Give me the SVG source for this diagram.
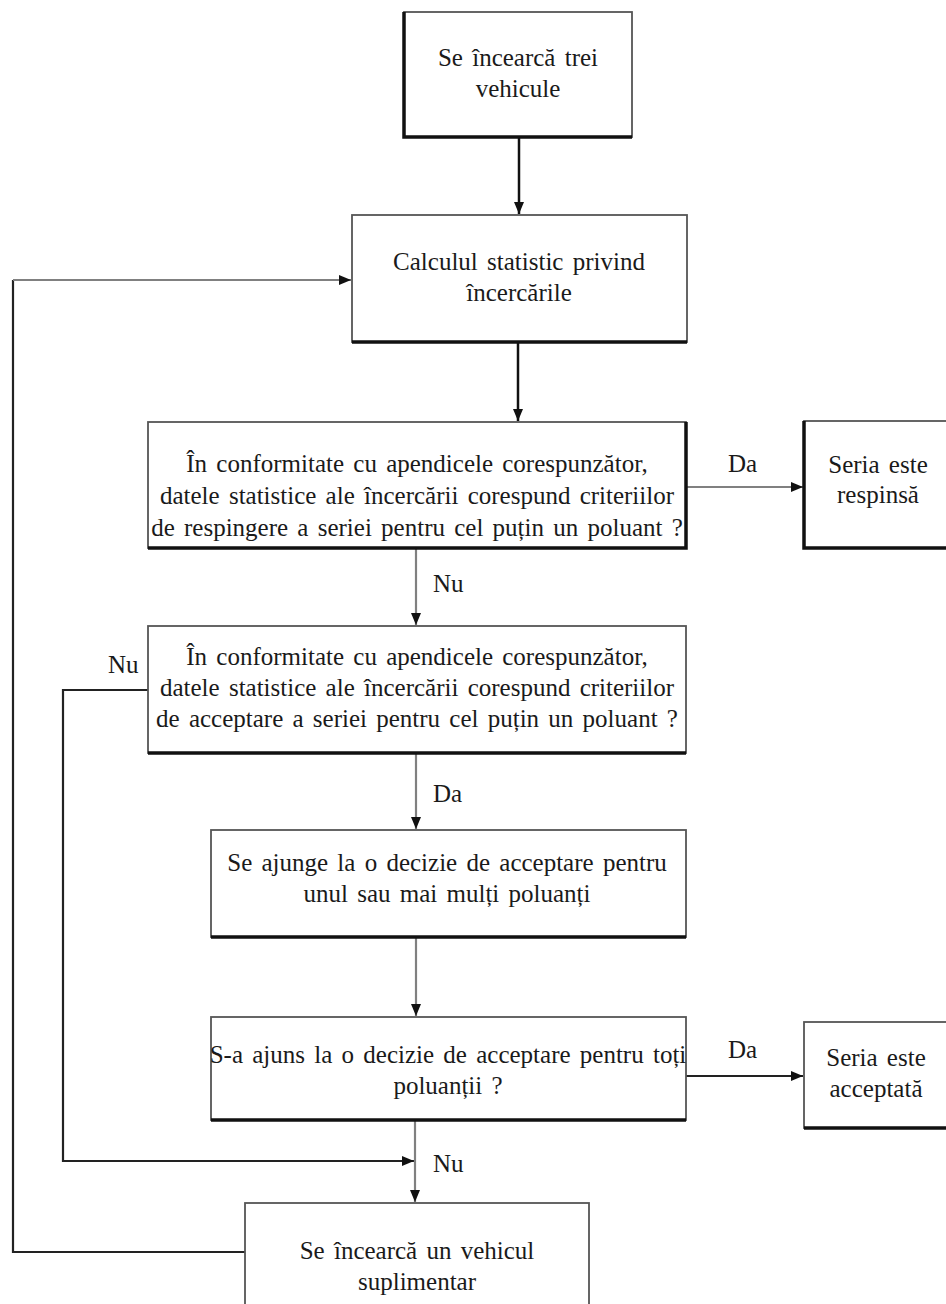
<svg xmlns="http://www.w3.org/2000/svg" width="946" height="1304" viewBox="0 0 946 1304">
<defs>
<style>
.box{fill:#fff;stroke:#555;stroke-width:1.8}
.bot{stroke:#111;stroke-width:3.5;fill:none}
.t{font-family:"Liberation Serif","Times New Roman",serif;font-size:25px;fill:#1a1a1a;text-anchor:middle;word-spacing:3px}
.lbl{font-family:"Liberation Serif","Times New Roman",serif;font-size:25px;fill:#1a1a1a}
.cb{stroke:#111;stroke-width:2.5;fill:none}
.cg{stroke:#808080;stroke-width:2.2;fill:none}
.cd{stroke:#222;stroke-width:2.2;fill:none}
</style>
<marker id="ah" viewBox="0 0 12 10" refX="12" refY="5" markerWidth="12" markerHeight="10" markerUnits="userSpaceOnUse" orient="auto">
<path d="M0,0 L12,5 L0,10 Z" fill="#111"/>
</marker>
</defs>
<rect width="946" height="1304" fill="#fff"/>

<g id="connectors">
<path class="cb" d="M519,137 V214" marker-end="url(#ah)"/>
<path class="cb" d="M518,342 V421" marker-end="url(#ah)"/>
<path class="cg" d="M686,487 H803" marker-end="url(#ah)"/>
<path class="cg" d="M416,548 V625" marker-end="url(#ah)"/>
<path class="cd" d="M148,690 H63 V1161 H414" marker-end="url(#ah)"/>
<path class="cg" d="M416,753 V829" marker-end="url(#ah)"/>
<path class="cg" d="M416,937 V1016" marker-end="url(#ah)"/>
<path class="cd" d="M686,1076 H803" marker-end="url(#ah)"/>
<path class="cg" d="M415,1120 V1202" marker-end="url(#ah)"/>
<path class="cd" d="M245,1252 H13 V280"/>
<path class="cg" d="M13,280 H351" marker-end="url(#ah)"/>
<text class="lbl" x="728" y="472">Da</text>
<text class="lbl" x="433" y="592">Nu</text>
<text class="lbl" x="108" y="673">Nu</text>
<text class="lbl" x="433" y="802">Da</text>
<text class="lbl" x="728" y="1058">Da</text>
<text class="lbl" x="433" y="1172">Nu</text>
</g>

<g id="n1">
<rect class="box" x="404" y="12" width="228" height="125"/>
<path class="bot" d="M404,12 V137 H632"/>
<text class="t" x="518" y="66">Se încearcă trei</text>
<text class="t" x="518" y="97">vehicule</text>
</g>

<g id="n2">
<rect class="box" x="352" y="215" width="335" height="127"/>
<path class="bot" d="M352,342 H687"/>
<text class="t" x="519" y="270">Calculul statistic privind</text>
<text class="t" x="519" y="301">încercările</text>
</g>

<g id="n3">
<rect class="box" x="148" y="422" width="538" height="126"/>
<path class="bot" d="M148,548 H686 V422"/>
<text class="t" x="417" y="472">În conformitate cu apendicele corespunzător,</text>
<text class="t" x="417" y="504">datele statistice ale încercării corespund criteriilor</text>
<text class="t" x="417" y="536">de respingere a seriei pentru cel puțin un poluant ?</text>
</g>

<g id="n4">
<rect class="box" x="804" y="421" width="150" height="127"/>
<path class="bot" d="M804,421 V548 H954"/>
<text class="t" x="878" y="473">Seria este</text>
<text class="t" x="878" y="503">respinsă</text>
</g>

<g id="n5">
<rect class="box" x="148" y="626" width="538" height="127"/>
<path class="bot" d="M148,753 H686"/>
<text class="t" x="417" y="665">În conformitate cu apendicele corespunzător,</text>
<text class="t" x="417" y="696">datele statistice ale încercării corespund criteriilor</text>
<text class="t" x="417" y="727">de acceptare a seriei pentru cel puțin un poluant ?</text>
</g>

<g id="n6">
<rect class="box" x="211" y="830" width="475" height="107"/>
<path class="bot" d="M211,937 H686"/>
<text class="t" x="447" y="871">Se ajunge la o decizie de acceptare pentru</text>
<text class="t" x="447" y="902">unul sau mai mulți poluanți</text>
</g>

<g id="n7">
<rect class="box" x="211" y="1017" width="475" height="103"/>
<path class="bot" d="M211,1120 H686"/>
<text class="t" x="448" y="1063">S-a ajuns la o decizie de acceptare pentru toți</text>
<text class="t" x="448" y="1094">poluanții ?</text>
</g>

<g id="n8">
<rect class="box" x="804" y="1022" width="150" height="106"/>
<path class="bot" d="M804,1128 H954"/>
<text class="t" x="876" y="1066">Seria este</text>
<text class="t" x="876" y="1097">acceptată</text>
</g>

<g id="n9">
<rect class="box" x="245" y="1203" width="344" height="110"/>
<text class="t" x="417" y="1259">Se încearcă un vehicul</text>
<text class="t" x="417" y="1290">suplimentar</text>
</g>
</svg>
